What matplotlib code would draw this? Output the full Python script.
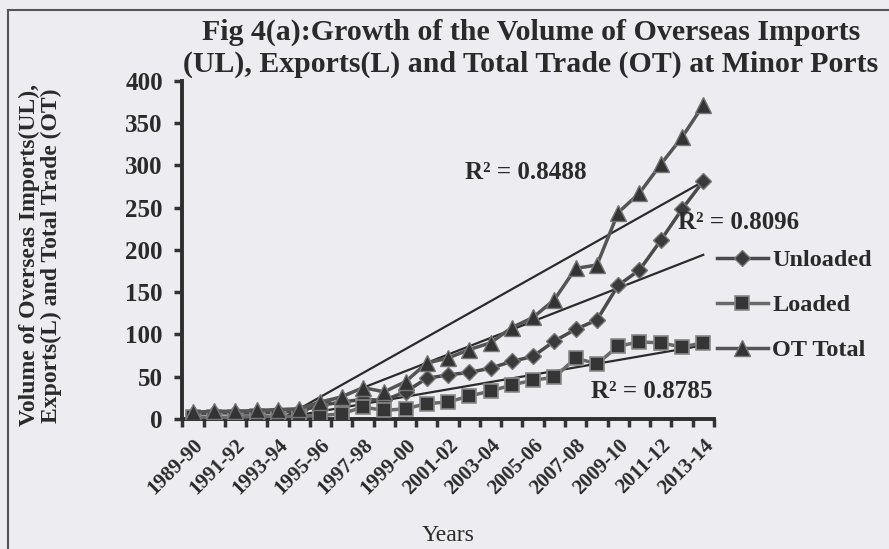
import numpy as np
import matplotlib.pyplot as plt
from matplotlib.lines import Line2D

plt.rcParams['font.family'] = ['Liberation Serif', 'DejaVu Serif']
plt.rcParams['font.weight'] = 'bold'

years = ['1989-90', '1990-91', '1991-92', '1992-93', '1993-94', '1994-95',
         '1995-96', '1996-97', '1997-98', '1998-99', '1999-00', '2000-01',
         '2001-02', '2002-03', '2003-04', '2004-05', '2005-06', '2006-07',
         '2007-08', '2008-09', '2009-10', '2010-11', '2011-12', '2012-13',
         '2013-14']
unloaded = [6, 7, 7, 7, 8, 9, 16, 20, 23, 22, 32, 48, 52, 55, 60,
            68, 74, 92, 106, 117, 158, 176, 211, 248, 281]
loaded = [2, 2, 2, 3, 3, 3, 4, 6, 14, 10, 12, 18, 20, 27, 33,
          40, 46, 49, 72, 65, 86, 91, 90, 85, 90]
ot_total = [8, 9, 9, 10, 11, 12, 20, 26, 37, 32, 44, 66, 72, 82, 90,
            108, 120, 141, 178, 182, 244, 267, 301, 333, 371]
r2_labels = ['R\u00b2 = 0.8488', 'R\u00b2 = 0.8096', 'R\u00b2 = 0.8785']

bg = '#edecf1'
ink = '#2a2a2a'
fig = plt.figure(figsize=(8.89, 5.49), dpi=100, facecolor=bg)
ax = fig.add_axes([0.205, 0.237, 0.598, 0.616], facecolor='none')

x = np.arange(len(years))

# linear trend lines (clipped at the axis minimum)
for vals in (ot_total, unloaded, loaded):
    k, b = np.polyfit(x, vals, 1)
    ax.plot(x, k * x + b, color='#2b2b2b', lw=1.6, zorder=2)

ul_style = dict(color='#4a4a4a', lw=2.5, marker='D', ms=8,
                mfc='#3a3a3a', mec='#777777', mew=1)
l_style = dict(color='#6a6a6a', lw=2.5, marker='s', ms=10,
               mfc='#353535', mec='#888888', mew=1.2)
ot_style = dict(color='#555555', lw=2.5, marker='^', ms=11,
                mfc='#333333', mec='#777777', mew=1)

ax.plot(x, unloaded, zorder=3, **ul_style)
ax.plot(x, loaded, zorder=3, **l_style)
ax.plot(x, ot_total, zorder=4, **ot_style)

ax.set_xlim(-0.5, len(years) - 0.5)
ax.set_ylim(0, 400)
ax.set_yticks(range(0, 401, 50))
ax.set_xticks(x[::2])
ax.set_xticklabels(years[::2], rotation=45, ha='right', va='top',
                   rotation_mode='anchor', fontsize=15)
ax.set_xticks(np.arange(-0.5, len(years), 1), minor=True)
ax.tick_params(axis='x', which='major', length=0, pad=12)
ax.tick_params(axis='x', which='minor', length=6, width=2.5, color='#333333')
ax.tick_params(axis='y', length=6, width=2.5, color='#333333',
               labelsize=18, pad=8)
for lbl in ax.get_yticklabels() + ax.get_xticklabels():
    lbl.set_color(ink)

for side in ('top', 'right'):
    ax.spines[side].set_visible(False)
for side in ('left', 'bottom'):
    ax.spines[side].set_linewidth(2.8)
    ax.spines[side].set_color('#2e2e2e')

ax.text(12.8, 292, r2_labels[0], fontsize=18, ha='left', va='center', color=ink)
ax.text(22.8, 232, r2_labels[1], fontsize=18, ha='left', va='center', color=ink)
ax.text(18.7, 32, r2_labels[2], fontsize=18, ha='left', va='center', color=ink)

ax.set_xlabel('Years', fontsize=17, labelpad=19, color=ink)
fig.text(0.046, 0.535, 'Volume of Overseas Imports(UL),\nExports(L) and Total Trade (OT)',
         rotation=90, ha='center', va='center', fontsize=17,
         linespacing=1.05, color=ink)

fig.text(0.597, 0.942, 'Fig 4(a):Growth of the Volume of Overseas Imports',
         ha='center', va='center', fontsize=21.5, color=ink)
fig.text(0.597, 0.882, '(UL), Exports(L) and Total Trade (OT) at Minor Ports',
         ha='center', va='center', fontsize=21.5, color=ink)

handles = [Line2D([], [], **ul_style), Line2D([], [], **l_style),
           Line2D([], [], **ot_style)]
leg = fig.legend(handles, ['Unloaded', 'Loaded', 'OT Total'],
                 loc='center left', bbox_to_anchor=(0.806, 0.444),
                 frameon=False, fontsize=17.5, handlelength=2.1,
                 handletextpad=0.2, labelspacing=0.95,
                 borderaxespad=0, borderpad=0)
for t in leg.get_texts():
    t.set_color(ink)

# page frame
fig.add_artist(Line2D([0.009, 0.009], [0.0, 0.982], color='#555555', lw=1.5))
fig.add_artist(Line2D([0.009, 1.0], [0.982, 0.982], color='#555555', lw=1.5))

fig.savefig('out.png', dpi=100, facecolor=bg)
